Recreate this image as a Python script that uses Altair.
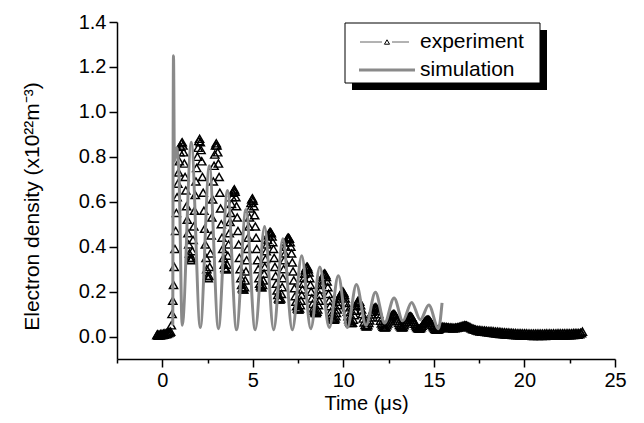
import altair as alt
import pandas as pd

# ---------------- data ----------------
# Experiment (open triangles). Uniformly sampled segments: start time (us), step (us), densities (1e22 m^-3)
exp_pre_start, exp_pre_step = -0.30, 0.04
exp_pre_density = [0.006, 0.010, 0.004, 0.009, 0.005, 0.011, 0.006, 0.012, 0.007, 0.013,
                   0.008, 0.014, 0.010, 0.016, 0.012, 0.018, 0.015, 0.020, 0.018, 0.022]

exp_osc_start, exp_osc_step = 0.50, 0.04
exp_osc_density = [
    0.05, 0.10, 0.16, 0.23, 0.31, 0.39, 0.47, 0.55, 0.62, 0.68, 0.73, 0.78, 0.82, 0.845, 0.86, 0.865,
    0.85, 0.82, 0.77, 0.71, 0.65, 0.58, 0.52, 0.46, 0.41, 0.37, 0.35, 0.34,
    0.35, 0.38, 0.43, 0.49, 0.56, 0.63, 0.69, 0.75, 0.80, 0.84, 0.87, 0.88,
    0.865, 0.83, 0.78, 0.71, 0.64, 0.56, 0.48, 0.41, 0.35, 0.30, 0.27, 0.26,
    0.27, 0.31, 0.37, 0.45, 0.53, 0.61, 0.69, 0.76, 0.81, 0.85, 0.86,
    0.85, 0.82, 0.77, 0.71, 0.64, 0.57, 0.50, 0.44, 0.39, 0.35, 0.32, 0.305, 0.30,
    0.30, 0.32, 0.36, 0.41, 0.46, 0.51, 0.55, 0.59, 0.62, 0.64, 0.65, 0.655,
    0.645, 0.62, 0.58, 0.53, 0.47, 0.41, 0.35, 0.30, 0.26, 0.23, 0.215, 0.21,
    0.21, 0.22, 0.25, 0.29, 0.34, 0.39, 0.44, 0.49, 0.53, 0.57, 0.595, 0.61, 0.615,
    0.605, 0.58, 0.54, 0.49, 0.44, 0.39, 0.34, 0.30, 0.26, 0.235, 0.225, 0.22,
    0.22, 0.23, 0.25, 0.28, 0.31, 0.345, 0.38, 0.41, 0.43, 0.45, 0.46, 0.465, 0.465,
    0.46, 0.445, 0.42, 0.39, 0.35, 0.31, 0.27, 0.235, 0.205, 0.185, 0.17, 0.165,
    0.165, 0.17, 0.19, 0.22, 0.26, 0.30, 0.34, 0.37, 0.40, 0.42, 0.435, 0.44, 0.44,
    0.435, 0.42, 0.40, 0.37, 0.33, 0.29, 0.25, 0.215, 0.18, 0.155, 0.135, 0.125, 0.12,
    0.12, 0.125, 0.14, 0.16, 0.185, 0.21, 0.235, 0.26, 0.28, 0.295, 0.305, 0.31,
    0.31, 0.30, 0.285, 0.26, 0.23, 0.20, 0.17, 0.145, 0.125, 0.115, 0.108, 0.105,
    0.105, 0.11, 0.12, 0.14, 0.16, 0.185, 0.21, 0.23, 0.25, 0.265, 0.275, 0.28, 0.28,
    0.275, 0.265, 0.245, 0.22, 0.19, 0.16, 0.135, 0.11, 0.095, 0.085, 0.078, 0.075,
    0.075, 0.08, 0.09, 0.105, 0.12, 0.14, 0.155, 0.17, 0.18, 0.19, 0.195, 0.20, 0.20,
    0.195, 0.185, 0.17, 0.15, 0.13, 0.11, 0.09, 0.077, 0.068, 0.062, 0.06, 0.06,
]

exp_late_start, exp_late_step = 10.50, 0.05
exp_late_density = [
    0.062, 0.075, 0.095, 0.115, 0.135, 0.15, 0.158, 0.16, 0.155, 0.14, 0.12, 0.10, 0.08, 0.063, 0.052, 0.046, 0.045,
    0.05, 0.06, 0.072, 0.085, 0.098, 0.11, 0.12, 0.127, 0.13, 0.13, 0.125, 0.115, 0.10, 0.085, 0.07, 0.058, 0.05, 0.044, 0.041, 0.04,
    0.043, 0.05, 0.058, 0.067, 0.076, 0.085, 0.092, 0.097, 0.10, 0.10, 0.097, 0.09, 0.08, 0.07, 0.06, 0.052, 0.046, 0.042, 0.04,
    0.043, 0.05, 0.058, 0.066, 0.074, 0.081, 0.086, 0.089, 0.09, 0.088, 0.083, 0.075, 0.066, 0.057, 0.049, 0.043, 0.038, 0.036, 0.035,
    0.037, 0.042, 0.048, 0.055, 0.062, 0.067, 0.071, 0.074, 0.075, 0.075, 0.072, 0.067, 0.06, 0.053, 0.046, 0.04, 0.035, 0.032,
    0.03, 0.03, 0.032, 0.035, 0.038, 0.041, 0.043,
]

exp_tail_start, exp_tail_step = 15.50, 0.05
exp_tail_density = [
    0.044, 0.040, 0.043, 0.038, 0.042, 0.039, 0.041, 0.037, 0.040, 0.038,
    0.040, 0.036, 0.039, 0.037, 0.040, 0.038, 0.041, 0.040, 0.043, 0.042,
    0.046, 0.045, 0.048, 0.047, 0.050, 0.048, 0.049, 0.046, 0.045, 0.042,
    0.041, 0.037, 0.037, 0.033, 0.034, 0.030, 0.031, 0.027, 0.029, 0.025,
    0.029, 0.023, 0.028, 0.022, 0.027, 0.021, 0.027, 0.020, 0.026, 0.019,
    0.025, 0.018, 0.025, 0.017, 0.024, 0.016, 0.023, 0.015, 0.022, 0.014,
    0.022, 0.013, 0.021, 0.012, 0.020, 0.011, 0.019, 0.010, 0.019, 0.009,
    0.018, 0.009, 0.018, 0.008, 0.017, 0.008, 0.017, 0.007, 0.016, 0.007,
    0.016, 0.006, 0.015, 0.006, 0.015, 0.005, 0.015, 0.005, 0.014, 0.005,
    0.014, 0.004, 0.014, 0.004, 0.013, 0.004, 0.013, 0.004, 0.013, 0.003,
    0.013, 0.003, 0.013, 0.004, 0.013, 0.003, 0.013, 0.004, 0.013, 0.003,
    0.013, 0.004, 0.013, 0.003, 0.014, 0.004, 0.013, 0.004, 0.014, 0.004,
    0.013, 0.004, 0.014, 0.004, 0.013, 0.005, 0.014, 0.004, 0.014, 0.005,
    0.014, 0.005, 0.014, 0.005, 0.015, 0.005, 0.014, 0.006, 0.015, 0.006,
    0.015, 0.006, 0.015, 0.007, 0.016, 0.007, 0.016, 0.008, 0.016, 0.008,
    0.016, 0.010, 0.017, 0.015, 0.022,
]

# Simulation (grey line): turning points
sim_time = [0.58, 0.62, 0.67, 0.80, 0.93, 1.10, 1.60, 2.10, 2.60, 3.10, 3.60, 4.10, 4.62, 5.13,
            5.65, 6.15, 6.66, 7.18, 7.70, 8.20, 8.70, 9.22, 9.72, 10.22, 10.72, 11.25, 11.77,
            12.28, 12.80, 13.28, 13.77, 14.25, 14.72, 15.25, 15.45]
sim_density = [0.05, 1.25, 0.78, 0.84, 0.70, 0.05, 0.865, 0.04, 0.76, 0.035, 0.65, 0.03, 0.565, 0.03,
               0.49, 0.03, 0.435, 0.03, 0.36, 0.035, 0.31, 0.04, 0.27, 0.04, 0.232, 0.05, 0.197,
               0.06, 0.172, 0.07, 0.152, 0.075, 0.14, 0.035, 0.15]

x_ticks = [-2.5, 0, 2.5, 5, 7.5, 10, 12.5, 15, 17.5, 20, 22.5, 25]
y_ticks = [0.0, 0.1, 0.2, 0.3, 0.4, 0.5, 0.6, 0.7, 0.8, 0.9, 1.0, 1.1, 1.2, 1.3, 1.4]
legend_labels = ["experiment", "simulation"]

x_title = "Time (\u03bcs)"
y_title = "Electron density (x10\u00b2\u00b2m\u207b\u00b3)"

# ---------------- build tables ----------------
def segment(start, step, values):
    return [(round(start + i * step, 4), v) for i, v in enumerate(values)]

rows = (segment(exp_pre_start, exp_pre_step, exp_pre_density)
        + segment(exp_osc_start, exp_osc_step, exp_osc_density)
        + segment(exp_late_start, exp_late_step, exp_late_density)
        + segment(exp_tail_start, exp_tail_step, exp_tail_density))
exp_df = pd.DataFrame(rows, columns=["time", "density"])
sim_df = pd.DataFrame({"time": sim_time, "density": sim_density})

FONT = "Liberation Sans"
GREY = "#8a8a8a"
W, H = 498, 337

x_scale = alt.Scale(domain=[-2.5, 25], nice=False, zero=False)
y_scale = alt.Scale(domain=[-0.1, 1.4], nice=False, zero=False)

x_axis = alt.Axis(
    values=x_ticks, format=".0f", labelFlush=False,
    labelExpr="datum.value % 5 === 0 ? datum.label : ''",
    tickSize={"condition": {"test": "datum.value % 5 === 0", "value": 8}, "value": 4},
    title=x_title, titlePadding=3,
)
y_axis = alt.Axis(
    values=y_ticks, format=".1f", labelFlush=False,
    labelExpr="round(datum.value * 10) % 2 === 0 ? datum.label : ''",
    tickSize={"condition": {"test": "round(datum.value * 10) % 2 === 0", "value": 8}, "value": 4},
    title=y_title, titlePadding=36, titleY=184, titleFontSize=21,
)

exp_layer = alt.Chart(exp_df).mark_point(
    shape="triangle-up", filled=False, color="black", size=68, strokeWidth=1.45, opacity=1
).encode(
    x=alt.X("time:Q", scale=x_scale, axis=x_axis),
    y=alt.Y("density:Q", scale=y_scale, axis=y_axis),
)

sim_layer = alt.Chart(sim_df).mark_line(
    color=GREY, strokeWidth=3, interpolate="monotone"
).encode(
    x=alt.X("time:Q", scale=x_scale),
    y=alt.Y("density:Q", scale=y_scale),
)

one = pd.DataFrame({"k": [0]})
shadow = alt.Chart(one).mark_rect(color="black").encode(
    x=alt.value(235), x2=alt.value(430), y=alt.value(8), y2=alt.value(68))
box = alt.Chart(one).mark_rect(fill="white", stroke="black", strokeWidth=1).encode(
    x=alt.value(228), x2=alt.value(423), y=alt.value(1), y2=alt.value(61))
l1a = alt.Chart(one).mark_rule(color="#666666", strokeWidth=1).encode(
    x=alt.value(243), x2=alt.value(265), y=alt.value(20))
l1b = alt.Chart(one).mark_rule(color="#666666", strokeWidth=1).encode(
    x=alt.value(275), x2=alt.value(292), y=alt.value(20))
tri = alt.Chart(one).mark_point(shape="triangle-up", filled=False, color="black", size=26, strokeWidth=1, opacity=1).encode(
    x=alt.value(270), y=alt.value(20))
l2 = alt.Chart(one).mark_rule(color=GREY, strokeWidth=3).encode(
    x=alt.value(242), x2=alt.value(298), y=alt.value(48))
t1 = alt.Chart(one).mark_text(align="left", baseline="middle", font=FONT, fontSize=21, color="black").encode(
    x=alt.value(303), y=alt.value(20), text=alt.value(legend_labels[0]))
t2 = alt.Chart(one).mark_text(align="left", baseline="middle", font=FONT, fontSize=21, color="black").encode(
    x=alt.value(303), y=alt.value(48), text=alt.value(legend_labels[1]))

chart = alt.layer(
    exp_layer, sim_layer, shadow, box, l1a, l1b, tri, l2, t1, t2
).properties(
    width=W, height=H,
    autosize=alt.AutoSizeParams(type="none"),
    padding={"left": 109, "top": 14, "right": 21, "bottom": 56},
    background="white",
).configure_view(
    stroke=None
).configure_axis(
    grid=False, domainColor="black", domainWidth=1.5, tickColor="black", tickWidth=1.5,
    labelFont=FONT, labelFontSize=20, labelColor="black", labelPadding=3,
    titleFont=FONT, titleFontSize=20, titleFontWeight="normal", titleColor="black",
)

chart.save("out.html", embed_options={"renderer": "svg", "actions": False})
